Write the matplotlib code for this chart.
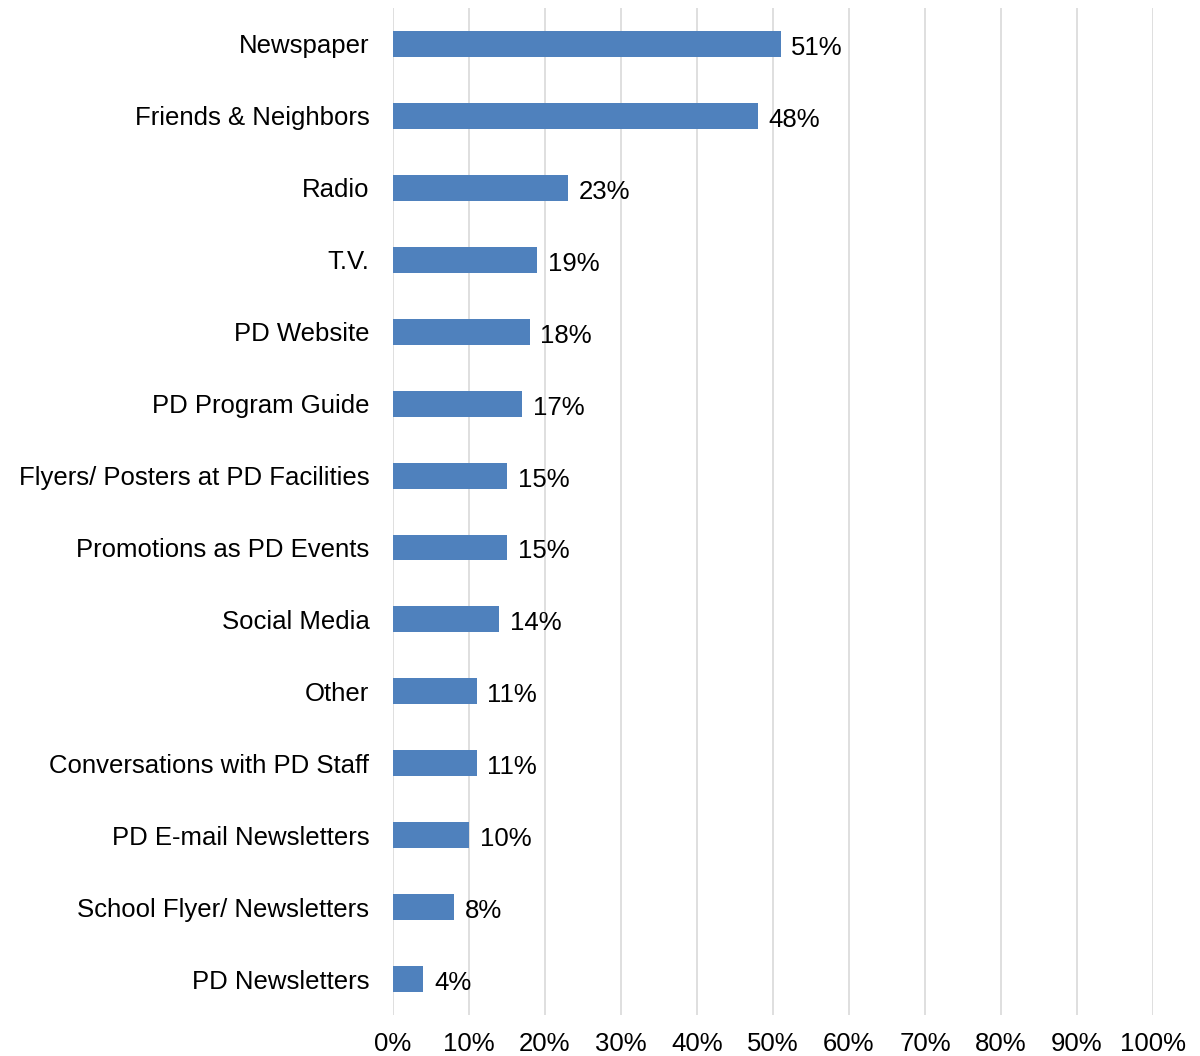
import matplotlib
matplotlib.use("Agg")
import matplotlib.pyplot as plt
from matplotlib.ticker import FuncFormatter

# --------------------------------------------------------------------------- #
# Data                                         #
# --------------------------------------------------------------------------- #
categories = [
    "Newspaper",
    "Friends & Neighbors",
    "Radio",
    "T.V.",
    "PD Website",
    "PD Program Guide",
    "Flyers/ Posters at PD Facilities",
    "Promotions as PD Events",
    "Social Media",
    "Other",
    "Conversations with PD Staff",
    "PD E-mail Newsletters",
    "School Flyer/ Newsletters",
    "PD Newsletters",
]
values = [51, 48, 23, 19, 18, 17, 15, 15, 14, 11, 11, 10, 8, 4]
x_ticks = [0, 10, 20, 30, 40, 50, 60, 70, 80, 90, 100]

BAR_COLOR = "#4F81BD"
GRID_COLOR = "#D9D9D9"
FS = 18.5

plt.rcParams["font.family"] = ["Liberation Sans", "DejaVu Sans"]

fig = plt.figure(figsize=(12, 10.56), dpi=100)
ax = fig.add_axes([0.3275, 0.0388, 0.6333, 0.9536])

ypos = list(range(len(categories)))
ax.barh(ypos, values, height=0.36, color=BAR_COLOR, zorder=3)

# value labels just right of each bar, sitting a touch below centre
for y, v in zip(ypos, values):
    ax.text(v + 1.4, y + 0.02, f"{v}%", va="center_baseline", ha="left",
            fontsize=FS, color="#000000")

ax.set_yticks(ypos)
ax.set_yticklabels(categories, fontsize=FS)
ax.set_ylim(len(categories) - 0.5, -0.5)

ax.set_xlim(0, 100)
ax.set_xticks(x_ticks)
ax.xaxis.set_major_formatter(FuncFormatter(lambda v, _: f"{int(v)}%"))
ax.tick_params(axis="x", labelsize=FS, length=0, pad=12.5)
ax.tick_params(axis="y", length=0, pad=17)

ax.grid(axis="x", color=GRID_COLOR, linewidth=1.2, zorder=0)
for side in ["top", "right", "bottom", "left"]:
    ax.spines[side].set_visible(False)

fig.savefig("out.png", dpi=100)
